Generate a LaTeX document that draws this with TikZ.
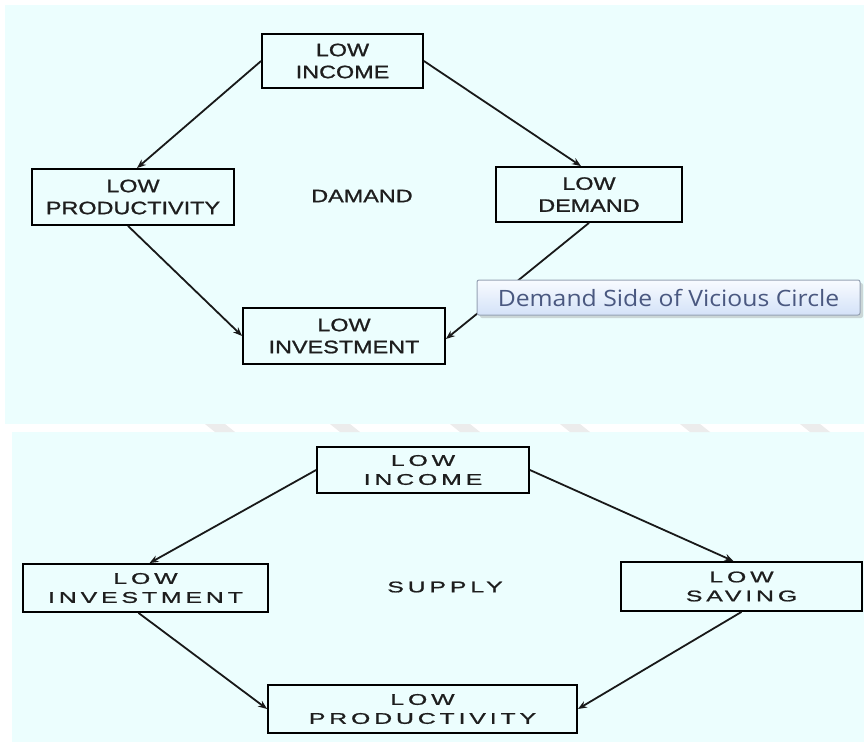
\documentclass[tikz,border=0pt]{standalone}
\usepackage{fontspec}
\usetikzlibrary{arrows.meta,shadows,calc}
\setmainfont{Liberation Sans}
\newfontfamily\topfont[FakeStretch=1.3,FakeBold=1]{Liberation Sans}
\newfontfamily\botfont[FakeStretch=1.6,LetterSpace=25,FakeBold=1]{Liberation Sans}
\newfontfamily\tipfont[FakeStretch=1.1]{Open Sans}
\definecolor{panelbg}{RGB}{236,254,254}
\definecolor{boxtext}{RGB}{30,30,30}
\definecolor{tiptext}{RGB}{74,88,128}
\definecolor{tipborder}{RGB}{150,162,180}
\definecolor{tiptop}{RGB}{248,251,255}
\definecolor{tipbot}{RGB}{212,226,248}
\definecolor{wmgray}{RGB}{236,236,236}
\tikzset{
  topbox/.style={draw, line width=1.8pt, text=boxtext, align=center,
    font=\topfont\fontsize{18}{22}\selectfont, inner sep=0pt},
  botbox/.style={draw, line width=1.8pt, text=boxtext, align=center,
    font=\botfont\fontsize{15.5}{19}\selectfont, inner sep=0pt},
  toplabel/.style={text=boxtext, font=\topfont\fontsize{18}{22}\selectfont, inner sep=0pt},
  botlabel/.style={text=boxtext, font=\botfont\fontsize{15.5}{19}\selectfont, inner sep=0pt},
  conn/.style={line width=1.8pt, black!90, -{Stealth[length=9pt,width=7pt]}},
  tooltip/.style={draw=tipborder, line width=1pt, rounded corners=2pt,
    top color=tiptop, bottom color=tipbot, text=tiptext,
    font=\tipfont\fontsize{22.5}{26}\selectfont, inner sep=0pt,
    drop shadow={shadow xshift=3pt, shadow yshift=-3pt, opacity=0.3, fill=gray}},
}
\begin{document}
\begin{tikzpicture}[x=1pt,y=-1pt]
\useasboundingbox (0,0) rectangle (864,742);
\fill[white] (0,0) rectangle (864,742);
% panels
\fill[panelbg] (5,5) rectangle (864,424);
\fill[panelbg] (12,432) rectangle (864,742);
% faint watermark in the gap
\foreach \a in {205,330,450,560,680,800}{
  \fill[wmgray] (\a,424) -- (\a+20,424) -- (\a+30,432) -- (\a+10,432) -- cycle;
}
% ===== top panel: demand side =====
\node[topbox, minimum width=161pt, minimum height=54pt] (ti) at (342.5,61) {LOW\\INCOME};
\node[topbox, minimum width=202pt, minimum height=56pt] (tp) at (133,197) {LOW\\PRODUCTIVITY};
\node[topbox, minimum width=186pt, minimum height=55pt] (td) at (589,194.5) {LOW\\DEMAND};
\node[topbox, minimum width=202pt, minimum height=56pt] (tv) at (344,336) {LOW\\INVESTMENT};
\node[toplabel] (tdl) at (362,196) {DAMAND};
\draw[conn] (ti.west) -- ([xshift=4pt]tp.north);
\draw[conn] (ti.east) -- ([xshift=-8pt]td.north);
\draw[conn] ([xshift=-5pt]tp.south) -- (tv.west);
\draw[conn] (td.south) -- ([yshift=-3pt]tv.east);
\node[tooltip, minimum width=383pt, minimum height=35pt] (tip) at (668.5,297.5) {Demand Side of Vicious Circle};
% ===== bottom panel: supply side =====
\node[botbox, minimum width=212pt, minimum height=46pt] (bi) at (423,470) {LOW\\INCOME};
\node[botbox, minimum width=245pt, minimum height=48pt] (bv) at (145.5,588) {LOW\\INVESTMENT};
\node[botbox, minimum width=241pt, minimum height=49pt] (bs) at (741.5,586.5) {LOW\\SAVING};
\node[botbox, minimum width=309pt, minimum height=48pt] (bp) at (422.5,709) {LOW\\PRODUCTIVITY};
\node[botlabel] (bsl) at (445,587) {SUPPLY};
\draw[conn] (bi.west) -- ([xshift=4pt]bv.north);
\draw[conn] (bi.east) -- ([xshift=-8pt]bs.north);
\draw[conn] ([xshift=-7pt]bv.south) -- (bp.west);
\draw[conn] (bs.south) -- (bp.east);
\end{tikzpicture}
\end{document}
